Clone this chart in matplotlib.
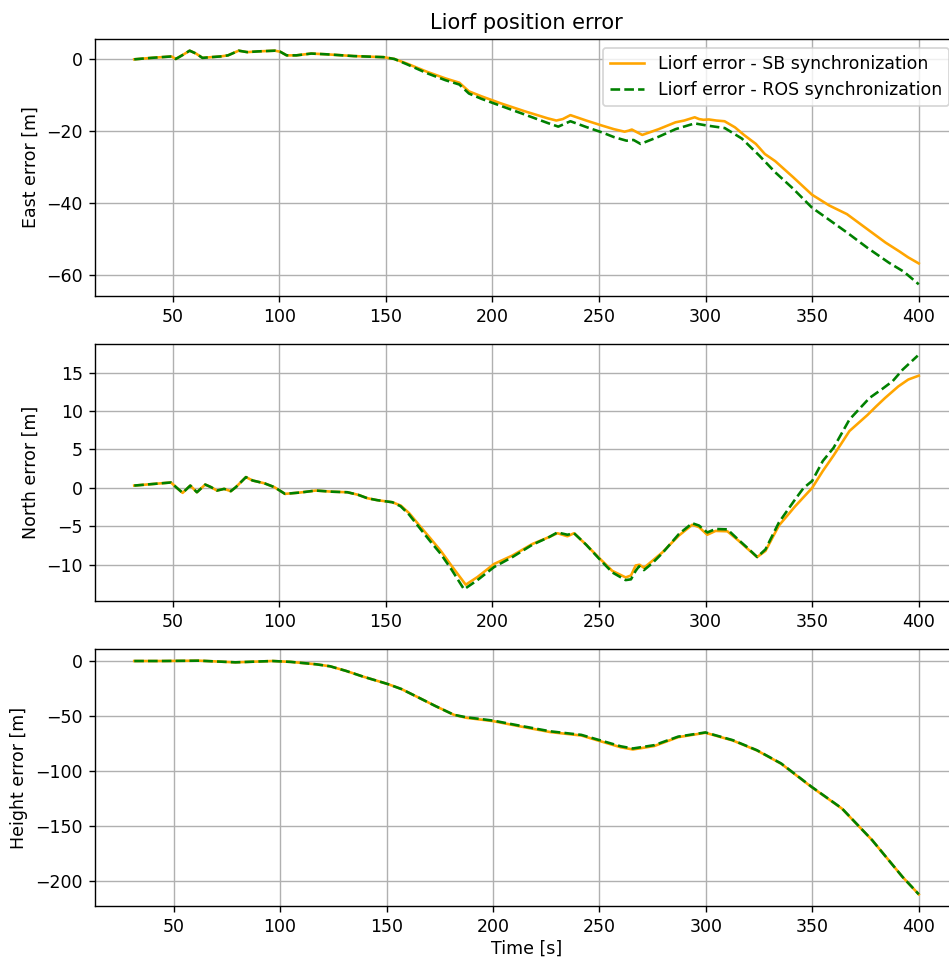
import matplotlib
matplotlib.use("Agg")
import matplotlib.pyplot as plt

# East error [m]
t_east_sb = [32, 40, 49.5, 51.5, 55, 58, 61, 64, 68, 72.5, 76, 81, 85, 90, 98,
             100.5, 103.5, 108, 115, 122, 135, 149, 154, 160, 169.5, 178, 184.5,
             189, 195, 203.8, 215, 226, 230, 233, 236.6, 244, 251.4, 257, 262,
             264, 265.4, 267, 270.3, 278, 285.9, 290, 294.9, 297, 299, 301.5,
             305, 308.9, 313.8, 318, 323.6, 327.8, 332.7, 341, 349.9, 358,
             366.3, 375, 384.4, 391, 395, 400]
east_sb = [0.0, 0.4, 0.8, 0.1, 1.3, 2.4, 1.6, 0.4, 0.6, 0.8, 1.1, 2.4, 2.0, 2.2,
           2.4, 2.1, 1.1, 1.1, 1.6, 1.4, 0.9, 0.6, 0.1, -1.2, -3.5, -5.3, -6.5,
           -8.9, -10.3, -12.2, -14.4, -16.4, -17.0, -16.6, -15.5, -17.0, -18.4,
           -19.4, -20.1, -19.8, -19.5, -20.0, -21.0, -19.4, -17.5, -17.0, -16.1,
           -16.6, -16.8, -16.7, -17.0, -17.2, -18.9, -21.0, -23.5, -26.3, -28.3,
           -32.7, -37.6, -40.6, -43.0, -46.8, -50.9, -53.4, -55.0, -56.7]

t_east_ros = [32, 40, 49.5, 51.5, 55, 58, 61, 64, 68, 72.5, 76, 81, 85, 90, 98,
              100.5, 103.5, 108, 115, 122, 135, 149, 154, 160, 169.5, 178,
              184.5, 189, 195, 203.8, 215, 226, 230.9, 236.6, 244, 251.4, 257,
              262.9, 266.2, 269.5, 278, 285.9, 294.9, 300.7, 309, 317, 325.3,
              332.7, 341, 349.9, 358, 366.3, 376, 386, 393, 400]
east_ros = [0.0, 0.4, 0.8, 0.1, 1.3, 2.4, 1.6, 0.4, 0.6, 0.8, 1.1, 2.4, 2.0,
            2.2, 2.4, 2.1, 1.1, 1.1, 1.6, 1.4, 0.9, 0.6, 0.1, -1.4, -3.9, -5.8,
            -7.0, -9.5, -11.0, -12.9, -15.3, -17.7, -18.7, -17.2, -18.8, -20.3,
            -21.6, -22.6, -22.4, -23.5, -21.5, -19.4, -17.8, -18.4, -19.1,
            -22.0, -26.8, -31.4, -35.9, -41.2, -44.6, -48.1, -52.4, -56.5,
            -59.0, -62.5]

# North error [m]
t_north_sb = [32, 49.2, 52, 54.7, 58.3, 61.4, 65.3, 68, 70.8, 74.2, 77.3, 79.7,
              84.4, 87.5, 93, 97.7, 102.7, 110, 117.2, 125, 132, 137, 141.4, 146,
              153.1, 157, 161, 166.4, 171, 175.8, 181, 187.5, 193, 200.8, 209.4,
              218.75, 226.6, 230.5, 235.2, 238.3, 244, 250, 256.25, 262.5, 265,
              267.2, 269, 271.1, 275, 279.7, 287.5, 293.75, 296.9, 300.8, 304.7,
              310.2, 315.6, 320, 324.2, 328.1, 334.4, 342, 350, 355, 360, 367.5,
              376, 380, 384.2, 390.4, 395.1, 400]
north_sb = [0.3, 0.7, 0.0, -0.65, 0.3, -0.57, 0.43, 0.1, -0.35, -0.13, -0.43,
            0.1, 1.4, 0.96, 0.6, 0.1, -0.78, -0.6, -0.35, -0.5, -0.57, -0.9,
            -1.35, -1.6, -1.87, -2.3, -3.3, -5.1, -6.6, -8.2, -10.2, -12.6,
            -11.6, -9.9, -8.8, -7.3, -6.4, -5.9, -6.3, -5.9, -7.4, -9.1, -10.8,
            -11.65, -11.4, -10.1, -10.0, -10.4, -9.5, -8.4, -6.2, -4.8, -5.1,
            -6.1, -5.6, -5.65, -6.9, -8.0, -9.0, -8.2, -4.9, -2.4, 0.0, 2.2, 4.2,
            7.4, 9.5, 10.6, 11.7, 13.2, 14.1, 14.6]

t_north_ros = [32, 49.2, 52, 54.7, 58.3, 61.4, 65.3, 68, 70.8, 74.2, 77.3, 79.7,
               84.4, 87.5, 93, 97.7, 102.7, 110, 117.2, 125, 132, 137, 141.4,
               146, 153.1, 157, 161, 166.4, 171, 175.8, 181, 186.7, 193, 200.8,
               209.4, 218.75, 226.6, 230.5, 235.2, 238.3, 244, 250, 256.25,
               262.5, 265, 267.2, 268.8, 271.1, 275, 279.7, 287.5, 293.75,
               296.9, 300.8, 304.7, 310.2, 315.6, 320, 324.2, 328.1, 334.4, 342,
               346, 350, 355, 360, 367.5, 376.9, 383, 387.8, 392.5, 399.5]
north_ros = [0.3, 0.7, 0.0, -0.65, 0.3, -0.57, 0.43, 0.1, -0.35, -0.13, -0.43,
             0.1, 1.4, 0.96, 0.6, 0.1, -0.78, -0.6, -0.35, -0.5, -0.57, -0.9,
             -1.35, -1.6, -1.87, -2.4, -3.5, -5.4, -7.0, -8.6, -10.7, -13.2,
             -12.0, -10.3, -9.0, -7.4, -6.4, -5.8, -6.1, -5.9, -7.4, -9.2,
             -11.0, -12.0, -11.9, -10.8, -10.2, -10.7, -9.8, -8.5, -6.0, -4.6,
             -4.9, -5.8, -5.35, -5.4, -6.8, -7.9, -9.0, -8.0, -4.5, -1.5, 0.0,
             0.9, 3.5, 5.2, 8.9, 11.7, 12.9, 13.9, 15.4, 17.2]

# Height error [m]
t_height = [31.5, 45, 62, 79, 96.5, 105, 110.5, 117, 123.5, 131, 139, 150.5,
            157, 164.8, 173, 181.7, 187.5, 200, 213, 227, 241.5, 252.9, 260,
            265.7, 275.7, 287, 299.8, 312.6, 324, 335.4, 349.6, 363.9, 378.1,
            392.3, 400]
height_sb = [0, 0, 0.3, -1.2, 0, -0.8, -1.8, -3.0, -4.8, -9.0, -14.2, -20.9,
             -25.5, -33, -41, -49, -51.7, -54.7, -59.6, -64.7, -67.8, -74.4,
             -78.5, -80.5, -77.4, -69.3, -65.3, -72.3, -81.4, -93.5, -114.6,
             -134.3, -163, -196.3, -212.3]
height_ros = [0, 0, 0.3, -1.2, 0, -0.8, -1.8, -3.0, -4.8, -9.0, -14.2, -20.9,
              -25.5, -33, -41, -49, -51.2, -54.2, -59.0, -64.0, -67.2, -73.6,
              -77.6, -79.6, -76.6, -68.8, -65.0, -72.0, -81.2, -93.3, -114.4,
              -134.1, -163, -196.3, -212.3]

sb_label = "Liorf error - SB synchronization"
ros_label = "Liorf error - ROS synchronization"


def main():
    dpi = 125
    fig = plt.figure(figsize=(949 / dpi, 959 / dpi), dpi=dpi)
    left = 95 / 949
    width = (958 - 95) / 949
    height = 257 / 959
    bottoms = [1 - 296 / 959, 1 - 601 / 959, 1 - 906 / 959]
    axes = [fig.add_axes([left, b, width, height]) for b in bottoms]

    ax = axes[0]
    ax.plot(t_east_sb, east_sb, color="orange", label=sb_label)
    ax.plot(t_east_ros, east_ros, "g--", label=ros_label)
    ax.set_title("Liorf position error")
    ax.set_ylabel("East error [m]")
    ax.legend(loc="upper right")

    ax = axes[1]
    ax.plot(t_north_sb, north_sb, color="orange")
    ax.plot(t_north_ros, north_ros, "g--")
    ax.set_ylabel("North error [m]")

    ax = axes[2]
    ax.plot(t_height, height_sb, color="orange")
    ax.plot(t_height, height_ros, "g--")
    ax.set_ylabel("Height error [m]")
    ax.set_xlabel("Time [s]", labelpad=2)

    for ax in axes:
        ax.grid(True)

    fig.savefig("out.png", dpi=dpi)
    return


if __name__ == "__main__":
    main()
